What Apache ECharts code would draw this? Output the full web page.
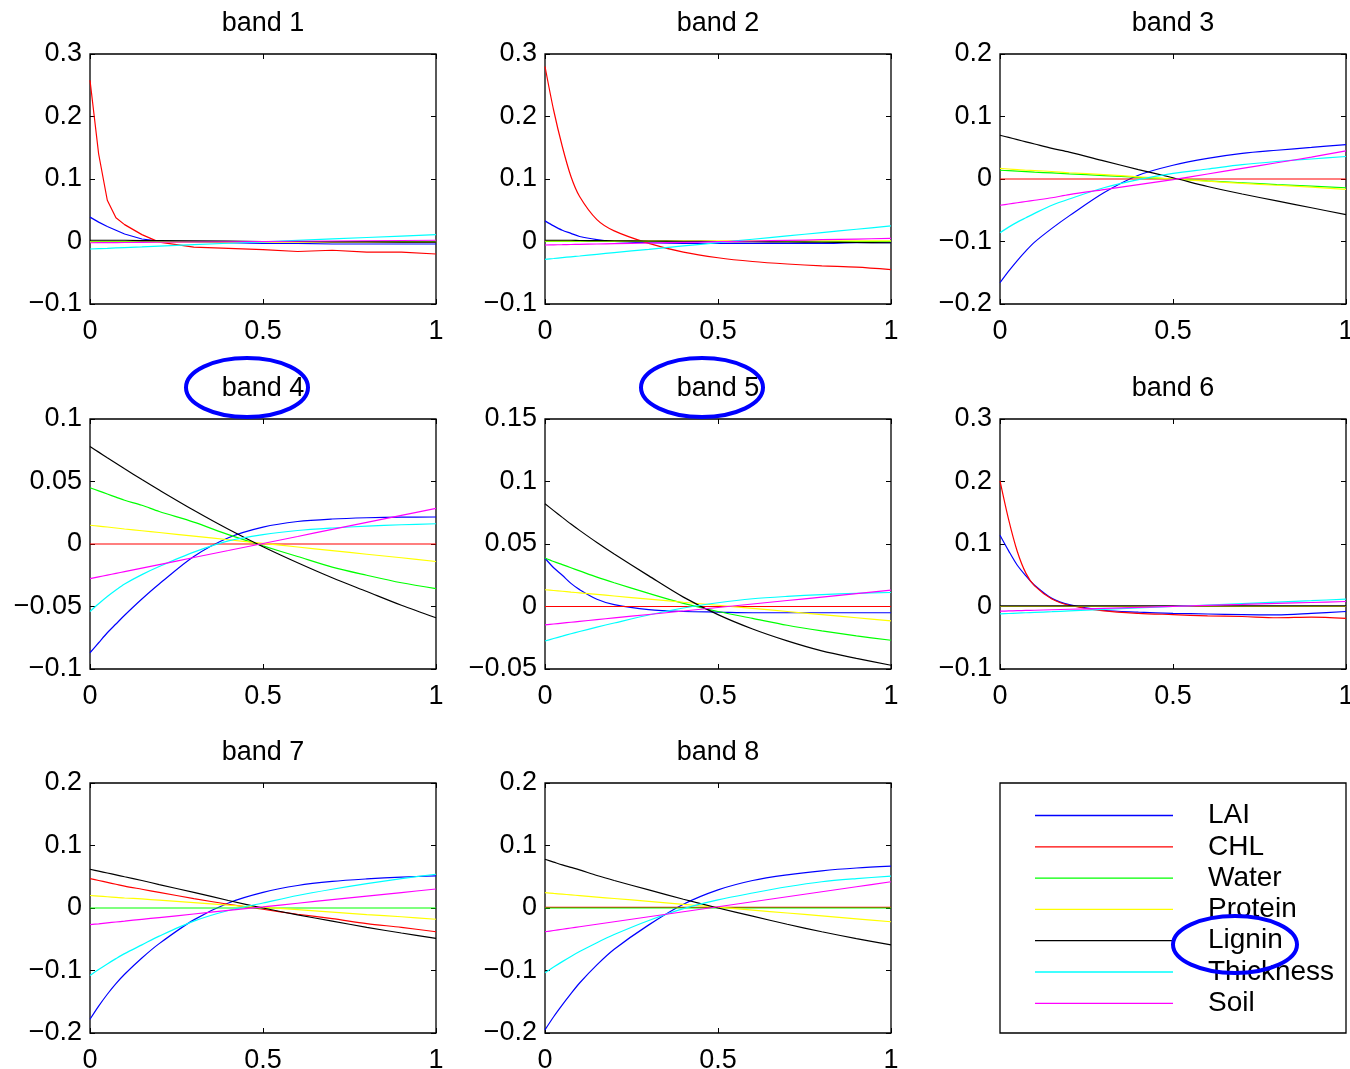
<!DOCTYPE html>
<html>
<head>
<meta charset="utf-8">
<script src="https://cdn.jsdelivr.net/npm/echarts@6/dist/echarts.min.js"></script>
<style>
  html, body { margin: 0; padding: 0; background: #fff; }
  #chart { width: 1350px; height: 1069px; }
</style>
</head>
<body>
<div id="chart"></div>
<script>
// sample positions along x (0..1), shared by every curve
var xs = [0, 0.025, 0.05, 0.075, 0.1, 0.15, 0.2, 0.3, 0.4, 0.5, 0.6, 0.7, 0.8, 0.9, 1];

var names = ['LAI', 'CHL', 'Water', 'Protein', 'Lignin', 'Thickness', 'Soil'];
var colors = ['#0000ff', '#ff0000', '#00ff00', '#ffff00', '#000000', '#00ffff', '#ff00ff'];
var titles = ['band 1', 'band 2', 'band 3', 'band 4', 'band 5', 'band 6', 'band 7', 'band 8'];

// y axis ranges per band [min, max, interval]
var yRanges = [
  [-0.1, 0.3, 0.1], [-0.1, 0.3, 0.1], [-0.2, 0.2, 0.1],
  [-0.1, 0.1, 0.05], [-0.05, 0.15, 0.05], [-0.1, 0.3, 0.1],
  [-0.2, 0.2, 0.1], [-0.2, 0.2, 0.1]
];

// rows: LAI, CHL, Water, Protein, Lignin, Thickness, Soil
var band1 = [
  [0.039, 0.031, 0.024, 0.018, 0.012, 0.004, 0.0005, -0.001, -0.002, -0.003, -0.003, -0.004, -0.004, -0.004, -0.004],
  [0.258, 0.14, 0.066, 0.038, 0.027, 0.011, -0.001, -0.009, -0.011, -0.013, -0.016, -0.014, -0.017, -0.017, -0.02],
  [0, 0, 0, 0, 0, 0, 0, 0, 0, 0, 0, 0, 0, 0, 0],
  [-0.001, -0.001, -0.001, -0.001, -0.001, -0.001, -0.001, -0.001, -0.001, -0.001, -0.001, -0.001, -0.001, -0.001, -0.001],
  [0.002, 0.002, 0.002, 0.002, 0.002, 0.0015, 0.0015, 0.001, 0.0005, 0, 0, -0.0005, -0.0005, -0.001, -0.001],
  [-0.012, -0.0114, -0.0109, -0.0103, -0.0097, -0.0086, -0.0074, -0.0051, -0.0028, -0.0005, 0.0018, 0.0041, 0.0064, 0.0087, 0.011],
  [-0.002, -0.0019, -0.0018, -0.0017, -0.0016, -0.0014, -0.0012, -0.0008, -0.0004, 0, 0.0004, 0.0008, 0.0012, 0.0016, 0.002]
];
var band2 = [
  [0.033, 0.025, 0.018, 0.013, 0.008, 0.003, 0.0, -0.002, -0.003, -0.003, -0.003, -0.003, -0.003, -0.002, -0.002],
  [0.28, 0.21, 0.152, 0.104, 0.072, 0.035, 0.017, -0.003, -0.017, -0.026, -0.032, -0.036, -0.039, -0.041, -0.045],
  [0, 0, 0, 0, 0, 0, 0, 0, 0, 0, 0, 0, 0, 0, 0],
  [0.001, 0.001, 0.001, 0.001, 0.001, 0.001, 0.001, 0.001, 0.001, 0.001, 0.001, 0.001, 0.001, 0.001, 0.001],
  [0.002, 0.002, 0.002, 0.002, 0.0016, 0.0014, 0.0012, 0.0008, 0.0004, 0, -0.0004, -0.0008, -0.0012, -0.0016, -0.002],
  [-0.0285, -0.0272, -0.0258, -0.0245, -0.0232, -0.0205, -0.0178, -0.0125, -0.0071, -0.0018, 0.0036, 0.0089, 0.0143, 0.0196, 0.025],
  [-0.0056, -0.0053, -0.0051, -0.0048, -0.0045, -0.004, -0.0035, -0.0024, -0.0014, -0.0003, 0.0008, 0.0018, 0.0029, 0.0039, 0.005]
];
var band3 = [
  [-0.166, -0.1475, -0.1305, -0.115, -0.101, -0.079, -0.059, -0.022, 0.006, 0.022, 0.033, 0.041, 0.046, 0.0505, 0.055],
  [0, 0, 0, 0, 0, 0, 0, 0, 0, 0, 0, 0, 0, 0, 0],
  [0.014, 0.0133, 0.0126, 0.0118, 0.011, 0.0097, 0.0083, 0.0055, 0.0027, 0, -0.003, -0.006, -0.009, -0.0115, -0.014],
  [0.017, 0.016, 0.015, 0.014, 0.0135, 0.012, 0.01, 0.007, 0.0035, 0, -0.0035, -0.007, -0.01, -0.013, -0.0165],
  [0.07, 0.0665, 0.063, 0.0595, 0.056, 0.049, 0.043, 0.029, 0.015, 0.002, -0.012, -0.024, -0.035, -0.046, -0.057],
  [-0.086, -0.077, -0.069, -0.062, -0.055, -0.042, -0.032, -0.014, -0.001, 0.009, 0.016, 0.023, 0.028, 0.032, 0.036],
  [-0.042, -0.04, -0.038, -0.036, -0.034, -0.03, -0.025, -0.017, -0.009, -0.001, 0.008, 0.017, 0.026, 0.035, 0.045]
];
var band4 = [
  [-0.087, -0.079, -0.071, -0.064, -0.057, -0.044, -0.032, -0.01, 0.005, 0.0135, 0.018, 0.02, 0.021, 0.0215, 0.0216],
  [0, 0, 0, 0, 0, 0, 0, 0, 0, 0, 0, 0, 0, 0, 0],
  [0.045, 0.0425, 0.04, 0.0375, 0.035, 0.031, 0.026, 0.0175, 0.0075, -0.0015, -0.01, -0.0185, -0.025, -0.031, -0.0357],
  [0.015, 0.0143, 0.0136, 0.0128, 0.012, 0.0106, 0.0092, 0.0063, 0.0034, 0.0005, -0.0024, -0.0053, -0.0082, -0.011, -0.014],
  [0.078, 0.0735, 0.069, 0.0646, 0.0602, 0.0516, 0.0432, 0.027, 0.0118, -0.0022, -0.015, -0.027, -0.038, -0.049, -0.059],
  [-0.054, -0.0478, -0.042, -0.0368, -0.032, -0.0245, -0.018, -0.0065, 0.0025, 0.0075, 0.0108, 0.0128, 0.0143, 0.0154, 0.0162],
  [-0.0277, -0.0263, -0.0249, -0.0235, -0.0221, -0.0193, -0.0165, -0.0108, -0.0052, 0.0004, 0.006, 0.0117, 0.0173, 0.0229, 0.0285]
];
var band5 = [
  [0.0386, 0.031, 0.025, 0.0185, 0.0135, 0.0058, 0.0015, -0.0025, -0.004, -0.0045, -0.005, -0.005, -0.005, -0.005, -0.005],
  [0, 0, 0, 0, 0, 0, 0, 0, 0, 0, 0, 0, 0, 0, 0],
  [0.0388, 0.036, 0.0335, 0.031, 0.0285, 0.0235, 0.019, 0.0105, 0.0025, -0.004, -0.0095, -0.015, -0.0195, -0.0235, -0.027],
  [0.0134, 0.0128, 0.0122, 0.0115, 0.0109, 0.0097, 0.0084, 0.0059, 0.0034, 0.001, -0.0015, -0.004, -0.0065, -0.009, -0.0115],
  [0.0822, 0.0767, 0.0713, 0.066, 0.0609, 0.0512, 0.042, 0.0245, 0.0075, -0.0065, -0.018, -0.0275, -0.0355, -0.0415, -0.047],
  [-0.0276, -0.0256, -0.0237, -0.0218, -0.02, -0.0165, -0.0132, -0.0068, -0.0012, 0.003, 0.0062, 0.0081, 0.0095, 0.0105, 0.0112],
  [-0.0147, -0.014, -0.0133, -0.0126, -0.0119, -0.0105, -0.0091, -0.0064, -0.0036, -0.0008, 0.002, 0.0048, 0.0075, 0.0103, 0.0131]
];
var band6 = [
  [0.114, 0.089, 0.066, 0.049, 0.034, 0.013, 0.003, -0.006, -0.009, -0.011, -0.012, -0.013, -0.0135, -0.011, -0.008],
  [0.201, 0.139, 0.088, 0.053, 0.033, 0.012, 0.002, -0.007, -0.011, -0.013, -0.015, -0.016, -0.018, -0.017, -0.019],
  [0, 0, 0, 0, 0, 0, 0, 0, 0, 0, 0, 0, 0, 0, 0],
  [0, 0, 0, 0, 0, 0, 0, 0, 0, 0, 0, 0, 0, 0, 0],
  [0.001, 0.001, 0.001, 0.001, 0.001, 0.001, 0.001, 0.001, 0.001, 0.001, 0.001, 0.001, 0.001, 0.001, 0.001],
  [-0.0118, -0.0112, -0.0106, -0.01, -0.0094, -0.0083, -0.0071, -0.0047, -0.0024, 0, 0.0024, 0.0047, 0.0071, 0.0094, 0.0118],
  [-0.0075, -0.0071, -0.0067, -0.0063, -0.006, -0.0052, -0.0044, -0.0029, -0.0013, 0.0002, 0.0018, 0.0033, 0.0049, 0.0064, 0.008]
];
var band7 = [
  [-0.178, -0.157, -0.138, -0.121, -0.106, -0.08, -0.057, -0.019, 0.008, 0.025, 0.036, 0.0425, 0.0465, 0.0495, 0.0515],
  [0.047, 0.044, 0.041, 0.038, 0.035, 0.03, 0.025, 0.015, 0.006, -0.002, -0.01, -0.017, -0.025, -0.031, -0.038],
  [0, 0, 0, 0, 0, 0, 0, 0, 0, 0, 0, 0, 0, 0, 0],
  [0.02, 0.019, 0.018, 0.017, 0.016, 0.0145, 0.0125, 0.0085, 0.0045, 0.001, -0.0025, -0.0065, -0.0105, -0.014, -0.018],
  [0.062, 0.059, 0.056, 0.053, 0.05, 0.044, 0.0375, 0.025, 0.012, 0, -0.011, -0.021, -0.031, -0.04, -0.0485],
  [-0.108, -0.0985, -0.0895, -0.081, -0.073, -0.059, -0.045, -0.021, -0.004, 0.008, 0.02, 0.03, 0.039, 0.047, 0.054],
  [-0.0267, -0.0253, -0.0238, -0.0224, -0.021, -0.0181, -0.0153, -0.0096, -0.0039, 0.0018, 0.0076, 0.0133, 0.019, 0.0247, 0.0304]
];
var band8 = [
  [-0.195, -0.174, -0.155, -0.137, -0.12, -0.091, -0.066, -0.027, 0.006, 0.029, 0.044, 0.053, 0.0595, 0.064, 0.067],
  [0.001, 0.001, 0.001, 0.001, 0.001, 0.001, 0.001, 0.001, 0.001, 0.001, 0.001, 0.001, 0.001, 0.001, 0.001],
  [0, 0, 0, 0, 0, 0, 0, 0, 0, 0, 0, 0, 0, 0, 0],
  [0.0245, 0.0233, 0.0222, 0.021, 0.0198, 0.0175, 0.0152, 0.0105, 0.0059, 0.0013, -0.0034, -0.008, -0.0127, -0.0173, -0.022],
  [0.078, 0.0735, 0.069, 0.065, 0.061, 0.052, 0.044, 0.029, 0.014, 0, -0.013, -0.026, -0.038, -0.049, -0.059],
  [-0.1035, -0.0945, -0.0858, -0.0775, -0.0697, -0.0555, -0.0425, -0.02, -0.001, 0.013, 0.024, 0.034, 0.042, 0.047, 0.051],
  [-0.038, -0.036, -0.034, -0.032, -0.03, -0.026, -0.022, -0.014, -0.006, 0.002, 0.01, 0.018, 0.026, 0.034, 0.042]
];

var bands = [band1, band2, band3, band4, band5, band6, band7, band8];

var FONT = '"Liberation Sans", Arial, Helvetica, sans-serif';
var colLeft = [90, 545, 1000];
var rowTop = [54, 419, 783];
var boxW = 346, boxH = 250;

function fmt(v) {
  var s = String(parseFloat(v.toFixed(4)));
  return s.replace('-', '\u2212');
}

var grids = [], xAxes = [], yAxes = [], series = [], titleList = [];

for (var b = 0; b < 9; b++) {
  var col = b % 3, row = Math.floor(b / 3);
  grids.push({
    left: colLeft[col], top: rowTop[row], width: boxW, height: boxH,
    outerBoundsMode: 'none', containLabel: false,
    show: true, borderColor: '#000', borderWidth: 1.3, backgroundColor: 'transparent'
  });
}

for (var i = 0; i < 8; i++) {
  var col = i % 3, row = Math.floor(i / 3);
  var yr = yRanges[i];
  var tick = { inside: true, length: 5, lineStyle: { color: '#000', width: 1 } };
  var noLine = { show: false, onZero: false };
  xAxes.push({
    gridIndex: i, type: 'value', min: 0, max: 1, interval: 0.5, position: 'bottom',
    axisLine: noLine, axisTick: tick, splitLine: { show: false },
    axisLabel: { fontSize: 27, color: '#000', fontFamily: FONT, margin: 14, formatter: fmt }
  });
  xAxes.push({
    gridIndex: i, type: 'value', min: 0, max: 1, interval: 0.5, position: 'top',
    axisLine: noLine, axisTick: tick, splitLine: { show: false }, axisLabel: { show: false }
  });
  yAxes.push({
    gridIndex: i, type: 'value', min: yr[0], max: yr[1], interval: yr[2], position: 'left',
    axisLine: noLine, axisTick: tick, splitLine: { show: false },
    axisLabel: { fontSize: 27, color: '#000', fontFamily: FONT, margin: 8, formatter: fmt }
  });
  yAxes.push({
    gridIndex: i, type: 'value', min: yr[0], max: yr[1], interval: yr[2], position: 'right',
    axisLine: noLine, axisTick: tick, splitLine: { show: false }, axisLabel: { show: false }
  });

  titleList.push({
    text: titles[i], left: colLeft[col] + boxW / 2, top: rowTop[row] - 44,
    textAlign: 'center', padding: 0,
    textStyle: { fontSize: 27, fontWeight: 'normal', color: '#000', fontFamily: FONT }
  });

  for (var k = 0; k < names.length; k++) {
    var vals = bands[i][k];
    series.push({
      name: names[k], type: 'line',
      xAxisIndex: i * 2, yAxisIndex: i * 2,
      data: xs.map(function (x, j) { return [x, vals[j]]; }),
      symbol: 'none', smooth: i === 0 ? false : 0.3,
      lineStyle: { color: colors[k], width: 1.2 },
      itemStyle: { color: colors[k] },
      silent: true
    });
  }
}

var chart = echarts.init(document.getElementById('chart'), null, { renderer: 'canvas' });
chart.setOption({
  animation: false,
  backgroundColor: '#fff',
  title: titleList,
  grid: grids,
  xAxis: xAxes,
  yAxis: yAxes,
  legend: {
    data: names.map(function (n) { return { name: n, icon: 'rect' }; }),
    orient: 'vertical', left: 1035, top: 800, padding: 0,
    itemWidth: 138, itemHeight: 1.3, itemGap: 0.3, selectedMode: false,
    textStyle: { fontSize: 28, lineHeight: 31, color: '#000', fontFamily: FONT, padding: [0, 0, 0, 30] }
  },
  graphic: [
    { type: 'ellipse', shape: { cx: 247, cy: 387.5, rx: 61, ry: 29.5 }, style: { fill: 'none', stroke: '#0000ff', lineWidth: 4 }, z: 100 },
    { type: 'ellipse', shape: { cx: 702, cy: 387.5, rx: 61, ry: 29.5 }, style: { fill: 'none', stroke: '#0000ff', lineWidth: 4 }, z: 100 },
    { type: 'ellipse', shape: { cx: 1235, cy: 944.5, rx: 62, ry: 28.5 }, style: { fill: 'none', stroke: '#0000ff', lineWidth: 4 }, z: 100 }
  ],
  series: series
});
</script>
</body>
</html>
